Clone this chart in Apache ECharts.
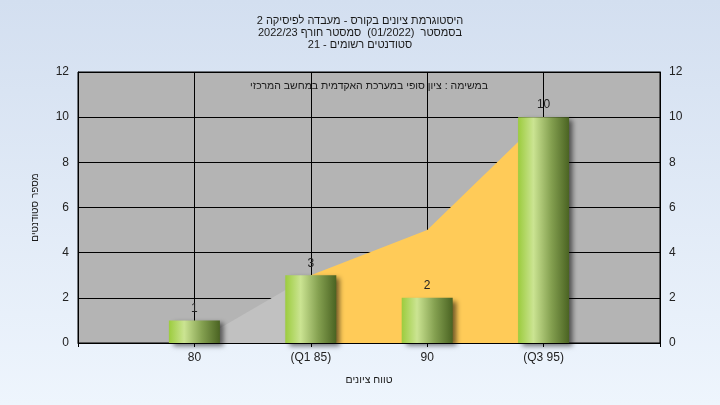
<!DOCTYPE html>
<html>
<head>
<meta charset="utf-8">
<script src="https://cdn.jsdelivr.net/npm/echarts@6/dist/echarts.min.js"></script>
<style>
html,body{margin:0;padding:0;}
#c{width:720px;height:405px;background:linear-gradient(to bottom,#d3dff0,#eef5fd);}
</style>
</head>
<body>
<div id="c"></div>
<script>
const RLE='\u202B', PDF='\u202C';
const titleLines = ['היסטוגרמת ציונים בקורס - מעבדה לפיסיקה 2','בסמסטר  (01/2022)  סמסטר חורף 2022/23','סטודנטים רשומים - 21'];
const noteText = 'במשימה : ציון סופי במערכת האקדמית במחשב המרכזי';
const xName = 'טווח ציונים';
const yName = 'מספר סטודנטים';
const categories = ['', '80', '(Q1 85)', '90', '(Q3 95)', ''];
const counts = ['-', 1, 3, 2, 10, '-'];
const grayArea = ['-', 0, 3, '-', '-', '-'];
const yellowArea = ['-', '-', 3, 5, 10, '-'];
const yTicks = [0, 2, 4, 6, 8, 10, 12];

const rtl = s => RLE + s + PDF;
const FONT = "'Liberation Sans', 'DejaVu Sans', sans-serif";
const chart = echarts.init(document.getElementById('c'));
const yAxisCommon = {
  type: 'value', min: yTicks[0], max: yTicks[yTicks.length-1], interval: 2,
  axisLine: {show: true, lineStyle: {color: '#000'}},
  axisTick: {show: false},
  axisLabel: {color: '#222', fontSize: 12, fontFamily: FONT, margin: 9},
};
chart.setOption({
  backgroundColor: 'transparent',
  textStyle: {fontFamily: FONT},
  title: {
    text: titleLines.map(rtl).join('\n'),
    left: 'center', top: 10,
    textStyle: {fontSize: 11, fontWeight: 'normal', color: '#1a1a1a', lineHeight: 12, fontFamily: FONT}
  },
  grid: {left: 78, right: 60, top: 72, bottom: 62, show: true, backgroundColor: '#b4b4b4', borderColor: '#000', borderWidth: 1},
  graphic: [{
    type: 'text', x: 369, y: 86, z: 10,
    style: {text: rtl(noteText), fill: '#1a1a1a', font: '10.5px ' + FONT, textAlign: 'center', textVerticalAlign: 'middle'}
  }],
  xAxis: {
    type: 'category', data: categories, boundaryGap: false,
    axisLine: {lineStyle: {color: '#000'}},
    axisTick: {show: true, length: 4, lineStyle: {color: '#000'}, alignWithLabel: true},
    axisLabel: {color: '#222', fontSize: 12, margin: 9, fontFamily: FONT, interval: 0},
    splitLine: {show: true, lineStyle: {color: '#000', width: 1}},
    name: rtl(xName), nameLocation: 'middle', nameGap: 32,
    nameTextStyle: {color: '#1a1a1a', fontSize: 10.5, fontFamily: FONT}
  },
  yAxis: [
    Object.assign({}, yAxisCommon, {
      position: 'left',
      splitLine: {show: true, lineStyle: {color: '#000', width: 1}},
      name: rtl(yName), nameLocation: 'middle', nameGap: 38,
      nameTextStyle: {color: '#1a1a1a', fontSize: 10, fontFamily: FONT}
    }),
    Object.assign({}, yAxisCommon, {position: 'right', splitLine: {show: false}})
  ],
  series: [
    {type: 'line', data: grayArea, symbol: 'none', lineStyle: {width: 0}, areaStyle: {color: '#c1c1c1', opacity: 1}, z: 1, silent: true},
    {type: 'line', data: yellowArea, symbol: 'none', lineStyle: {width: 0}, areaStyle: {color: '#ffcb58', opacity: 1}, z: 2, silent: true},
    {type: 'bar', data: counts, barWidth: 51, z: 3,
      itemStyle: {
        color: new echarts.graphic.LinearGradient(0, 0, 1, 0, [
          {offset: 0, color: '#9ccc3e'},
          {offset: 0.3, color: '#cbe492'},
          {offset: 0.65, color: '#84a050'},
          {offset: 1, color: '#4a6322'}
        ]),
        shadowColor: 'rgba(0,0,0,0.55)', shadowBlur: 5, shadowOffsetX: 4, shadowOffsetY: 3
      },
      label: {show: true, position: 'top', distance: 6, color: '#222', fontSize: 12, fontFamily: FONT}
    }
  ]
});
</script>
</body>
</html>
